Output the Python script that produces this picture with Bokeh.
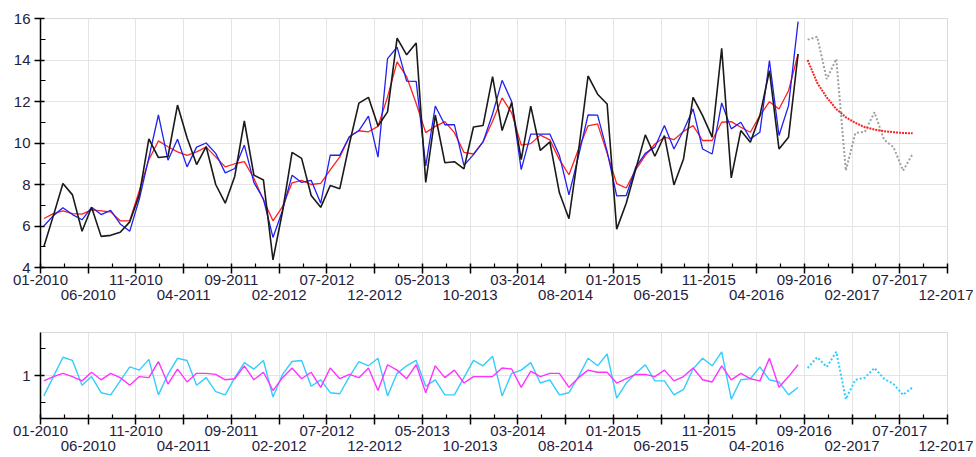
from bokeh.plotting import figure
from bokeh.models import Range1d, FixedTicker, LinearAxis
from bokeh.layouts import column
from bokeh.embed import file_html
from bokeh.resources import INLINE

# ---------------- data ----------------
tick_labels = ["01-2010", "06-2010", "11-2010", "04-2011", "09-2011", "02-2012",
               "07-2012", "12-2012", "05-2013", "10-2013", "03-2014", "08-2014",
               "01-2015", "06-2015", "11-2015", "04-2016", "09-2016", "02-2017",
               "07-2017", "12-2017"]
tick_months = list(range(0, 96, 5))   # month index of each tick (0 = 01-2010)

actual = [5.0, 6.5, 8.05, 7.5, 5.75, 6.9, 5.5, 5.55, 5.7, 6.2,
          7.5, 10.2, 9.3, 9.35, 11.83, 10.25, 8.96, 9.83, 8.0, 7.1,
          8.4, 11.06, 8.45, 8.22, 4.37, 6.7, 9.55, 9.26, 7.47, 6.9,
          7.95, 7.8, 9.95, 11.92, 12.2, 10.82, 11.5, 15.05, 14.25, 14.82,
          8.1, 11.35, 9.05, 9.1, 8.75, 10.77, 10.84, 13.2, 10.6, 11.95,
          9.2, 11.78, 9.64, 10.05, 7.6, 6.35, 9.6, 13.23, 12.35, 11.88,
          5.85, 7.1, 8.75, 10.39, 9.36, 10.36, 7.98, 9.23, 12.2, 11.32,
          10.28, 14.56, 8.32, 10.6, 10.04, 11.32, 13.49, 9.71, 10.28, 14.29]
fitted = [6.0, 6.5, 6.88, 6.55, 6.3, 6.9, 6.55, 6.75, 6.1, 5.75,
          7.3, 9.3, 11.35, 9.17, 10.18, 8.85, 9.8, 10.0, 9.5, 8.56,
          8.77, 9.9, 8.1, 7.3, 5.45, 6.75, 8.45, 8.1, 8.2, 7.1,
          9.42, 9.41, 10.3, 10.6, 11.3, 9.32, 14.07, 14.62, 12.98, 12.97,
          8.9, 11.78, 10.88, 10.89, 8.92, 9.44, 10.05, 11.4, 13.02, 12.0,
          8.72, 10.43, 10.43, 10.43, 9.4, 7.5, 9.37, 11.35, 11.34, 9.6,
          7.45, 7.47, 8.84, 9.5, 9.8, 10.84, 9.71, 10.6, 11.64, 9.71,
          9.47, 11.93, 10.68, 11.0, 10.2, 10.52, 13.97, 10.36, 11.8, 15.85]
level = [6.36, 6.6, 6.73, 6.6, 6.57, 6.78, 6.73, 6.68, 6.25, 6.25,
         7.7, 9.2, 10.1, 9.82, 9.57, 9.4, 9.57, 9.8, 9.33, 8.85,
         9.0, 9.1, 8.3, 7.25, 6.25, 6.93, 8.08, 8.2, 8.0, 8.05,
         8.7, 9.33, 10.3, 10.59, 10.54, 10.8, 12.22, 13.91, 13.19, 11.9,
         10.5, 10.8, 11.03, 10.5, 9.55, 9.47, 10.05, 11.05, 12.17, 11.45,
         9.9, 9.97, 10.38, 10.15, 9.2, 8.47, 9.7, 10.83, 10.92, 9.5,
         8.04, 7.83, 8.72, 9.4, 9.95, 10.28, 10.16, 10.56, 10.84, 10.12,
         10.12, 11.0, 11.03, 10.76, 10.52, 11.32, 11.99, 11.64, 12.52, 14.29]
forecast_actual = [14.98, 15.12, 13.08, 14.05, 8.67, 10.48, 10.55, 11.48, 10.16, 9.8, 8.67, 9.47]
forecast_level = [14.0, 12.9, 12.2, 11.64, 11.24, 10.97, 10.76, 10.65, 10.57, 10.52, 10.48, 10.47]

irregular = [0.81, 0.99, 1.17, 1.14, 0.91, 0.99, 0.84, 0.82, 0.95, 1.08,
             1.05, 1.15, 0.82, 1.01, 1.16, 1.14, 0.91, 0.98, 0.85, 0.82,
             0.98, 1.12, 1.06, 1.14, 0.80, 1.01, 1.13, 1.14, 0.90, 0.96,
             0.84, 0.83, 0.99, 1.13, 1.09, 1.16, 0.81, 1.02, 1.09, 1.14,
             0.90, 0.96, 0.82, 0.82, 0.98, 1.14, 1.09, 1.18, 0.81, 1.02,
             1.05, 1.12, 0.93, 0.96, 0.82, 0.84, 0.99, 1.16, 1.09, 1.20,
             0.79, 0.93, 1.02, 1.10, 0.95, 0.95, 0.82, 0.87, 1.06, 1.16,
             1.09, 1.22, 0.78, 0.96, 0.97, 1.08, 0.96, 0.94, 0.82, 0.89]
seasonal = [0.95, 0.99, 1.02, 0.99, 0.95, 1.03, 0.96, 1.02, 0.98, 0.91,
            0.99, 0.98, 1.13, 0.92, 1.06, 0.94, 1.02, 1.02, 1.01, 0.96,
            0.97, 1.09, 0.96, 1.03, 0.86, 0.98, 1.07, 0.97, 1.03, 0.89,
            1.07, 0.97, 1.01, 0.98, 1.07, 0.86, 1.10, 1.05, 0.97, 1.10,
            0.84, 1.09, 0.98, 1.05, 0.93, 0.99, 0.99, 0.99, 1.07, 1.06,
            0.89, 1.04, 0.99, 1.02, 1.02, 0.89, 0.98, 1.05, 1.03, 1.03,
            0.93, 0.97, 1.01, 1.01, 0.99, 1.05, 0.95, 0.99, 1.07, 0.96,
            0.94, 1.09, 0.96, 1.02, 0.97, 0.95, 1.16, 0.89, 0.99, 1.10]
forecast_irregular = [1.07, 1.17, 1.08, 1.22, 0.78, 0.96, 0.98, 1.07, 0.97, 0.92, 0.82, 0.89]

# ---------------- layout constants ----------------
POINT_OFFSET = 0.35          # data points sit slightly after the month tick
n_obs = len(actual)
x_obs = [i + POINT_OFFSET for i in range(n_obs)]
x_fc = [n_obs + i + POINT_OFFSET for i in range(len(forecast_actual))]

FONT = "Liberation Sans"
TXT = "#1e2140"
GRID = "#e4e4e4"
odd_ticks = tick_months[1::2]
minor_x = [m + 2.5 for m in tick_months[:-1]]
lab_even = {m: (lab if k % 2 == 0 else "") for k, (m, lab) in enumerate(zip(tick_months, tick_labels))}
lab_odd = {m: lab for k, (m, lab) in enumerate(zip(tick_months, tick_labels)) if k % 2 == 1}


def style_x(p):
    ax = p.xaxis[0]
    ax.ticker = FixedTicker(ticks=tick_months, minor_ticks=minor_x)
    ax.major_label_overrides = lab_even
    ax.axis_line_color = "black"
    ax.axis_line_width = 1.5
    ax.major_tick_line_color = "black"
    ax.major_tick_line_width = 1.5
    ax.major_tick_out = 6
    ax.major_tick_in = 4
    ax.minor_tick_line_color = "black"
    ax.minor_tick_line_width = 1.2
    ax.minor_tick_out = 0
    ax.minor_tick_in = 4
    ax.major_label_text_font = FONT
    ax.major_label_text_font_size = "15px"
    ax.major_label_text_color = TXT
    ax.major_label_standoff = 1
    ax2 = LinearAxis(ticker=FixedTicker(ticks=odd_ticks, minor_ticks=[]),
                     major_label_overrides=lab_odd,
                     axis_line_color=None, major_tick_line_color=None,
                     minor_tick_line_color=None,
                     major_tick_out=0, major_tick_in=0,
                     major_label_standoff=2,
                     major_label_text_font=FONT,
                     major_label_text_font_size="15px",
                     major_label_text_color=TXT)
    p.add_layout(ax2, "below")
    p.xgrid.ticker = FixedTicker(ticks=tick_months)
    p.xgrid.grid_line_color = GRID


def style_y(p, ticks, minor):
    ax = p.yaxis[0]
    ax.ticker = FixedTicker(ticks=ticks, minor_ticks=minor)
    ax.axis_line_color = "black"
    ax.axis_line_width = 1.5
    ax.major_tick_line_color = "black"
    ax.major_tick_line_width = 1.5
    ax.major_tick_out = 6
    ax.major_tick_in = 4
    ax.minor_tick_line_color = "black"
    ax.minor_tick_line_width = 1.2
    ax.minor_tick_out = 0
    ax.minor_tick_in = 5
    ax.major_label_text_font = FONT
    ax.major_label_text_font_size = "15px"
    ax.major_label_text_color = TXT
    ax.major_label_standoff = 4
    p.ygrid.ticker = FixedTicker(ticks=ticks)
    p.ygrid.grid_line_color = GRID


# ---------------- top chart ----------------
p1 = figure(output_backend="svg", toolbar_location=None,
            frame_width=907, frame_height=249,
            min_border_left=40, min_border_right=26,
            min_border_top=18, min_border_bottom=48,
            x_range=Range1d(0, 95), y_range=Range1d(4, 16))
p1.outline_line_color = "#d8d8d8"
style_x(p1)
style_y(p1, list(range(4, 17, 2)), list(range(5, 16, 2)))

p1.line(x_fc, forecast_actual, line_color="#a0a0a0", line_width=2, line_dash="2 2")
p1.line(x_fc, forecast_level, line_color="#ff2020", line_width=2, line_dash="2 1")
p1.line(x_obs, level, line_color="#ff2020", line_width=1.3)
p1.line(x_obs, fitted, line_color="#2020f0", line_width=1.3)
p1.line(x_obs, actual, line_color="#1a1a1a", line_width=1.6)

# ---------------- bottom chart ----------------
p2 = figure(output_backend="svg", toolbar_location=None,
            frame_width=907, frame_height=86,
            min_border_left=40, min_border_right=26,
            min_border_top=17, min_border_bottom=5,
            x_range=Range1d(0, 95), y_range=Range1d(0.6, 1.4))
p2.outline_line_color = "#d8d8d8"
style_x(p2)
style_y(p2, [0.5, 1.0, 1.5], [0.75, 1.25])
p2.yaxis[0].major_label_overrides = {0.5: "0.5", 1.0: "1", 1.5: "1.5"}

p2.line(x_fc, forecast_irregular, line_color="#33ccff", line_width=2, line_dash="2 2")
p2.line(x_obs, irregular, line_color="#33ccff", line_width=1.4)
p2.line(x_obs, seasonal, line_color="#ff33ff", line_width=1.4)

layout = column(p1, p2)
open("out.html", "w").write(file_html(layout, INLINE))
